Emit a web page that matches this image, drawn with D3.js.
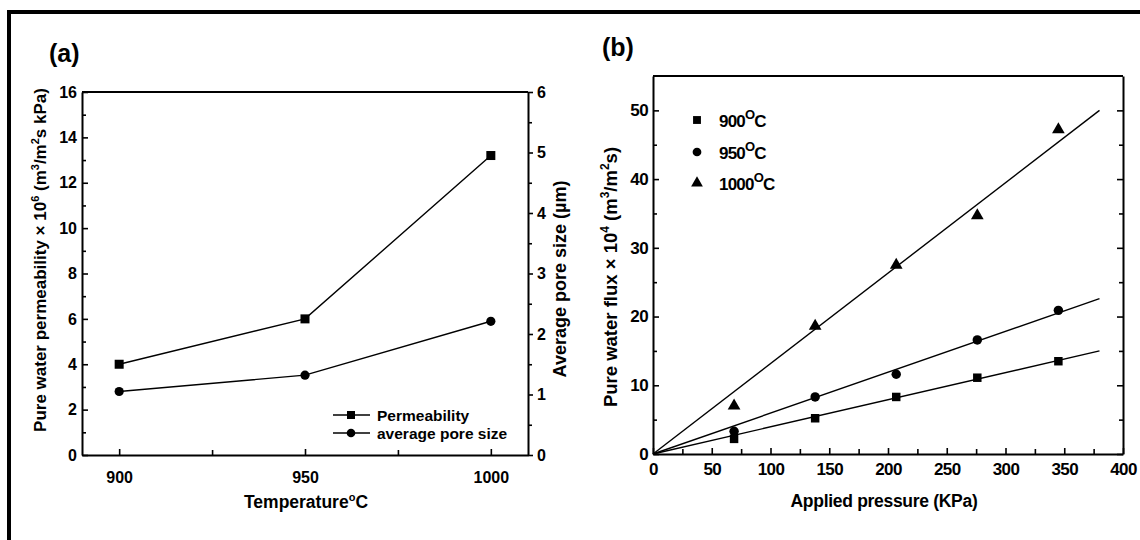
<!DOCTYPE html>
<meta charset="utf-8">
<script src="https://d3js.org/d3.v7.min.js"></script>
<style>
  body { margin: 0; background: #fff; }
  text { font-family: "Liberation Sans", Arial, sans-serif; font-weight: bold; fill: #000; }
  .axis path, .axis line { stroke: #000; }
  .axis path { stroke-width: 2; }
  .axis line { stroke-width: 1.6; }
</style>
<div class="canvas"></div>
<script>
    // panel (a) data
    const temps = [900, 950, 1000]
    const permeability = [4.0, 6.0, 13.2]
    const poreSize = [1.05, 1.32, 2.21]

    // panel (b) data
    const pressure = [69, 138, 207, 276, 345]
    const flux900 = [2.2, 5.2, 8.3, 11.1, 13.5]
    const flux950 = [3.3, 8.3, 11.6, 16.6, 20.9]
    const flux1000 = [7.0, 18.6, 27.5, 34.7, 47.2]
    const fitX = [0, 380]
    const fit900 = [0, 15.0]
    const fit950 = [0, 22.6]
    const fit1000 = [0, 50.0]
    const seriesNames = ["900", "950", "1000"]

    const width = 1140
    const height = 540

    const svg = d3.select(".canvas")
                .append("svg")
                .attr("width", width)
                .attr("height", height)

    // outer frame (top + left only)
    svg.append("line").attr("x1", 9).attr("x2", width).attr("y1", 12).attr("y2", 12)
        .attr("stroke", "#000").attr("stroke-width", 4)
    svg.append("line").attr("x1", 9).attr("x2", 9).attr("y1", 10).attr("y2", height)
        .attr("stroke", "#000").attr("stroke-width", 4)

    // ---------- panel (a) ----------
    const a = {left: 82, right: 528, top: 92, bottom: 455}

    const xA = d3.scaleLinear().domain([890, 1010]).range([a.left, a.right])
    const yA = d3.scaleLinear().domain([0, 16]).range([a.bottom, a.top])
    const yA2 = d3.scaleLinear().domain([0, 6]).range([a.bottom, a.top])

    // frame top
    svg.append("line").attr("x1", a.left).attr("x2", a.right).attr("y1", a.top).attr("y2", a.top)
        .attr("stroke", "#000").attr("stroke-width", 2)

    const gxA = svg.append("g").attr("class", "axis").attr("transform", `translate(0,${a.bottom})`)
        .call(d3.axisBottom(xA).tickValues([900, 925, 950, 975, 1000]).tickSizeInner(-6).tickSizeOuter(0)
            .tickPadding(17).tickFormat(d => d % 50 === 0 ? d : ""))
    const gyA = svg.append("g").attr("class", "axis").attr("transform", `translate(${a.left},0)`)
        .call(d3.axisLeft(yA).tickValues(d3.range(0, 17, 1)).tickSizeInner(-6).tickSizeOuter(0)
            .tickPadding(5).tickFormat(d => d % 2 === 0 ? d : ""))
    const gyA2 = svg.append("g").attr("class", "axis").attr("transform", `translate(${a.right},0)`)
        .call(d3.axisRight(yA2).tickValues(d3.range(0, 6.1, 0.5)).tickSizeInner(5).tickSizeOuter(0)
            .tickPadding(4).tickFormat(d => Number.isInteger(d) ? d : ""))

    gyA.selectAll(".tick").filter(d => d % 2 !== 0).select("line").attr("x2", 4)
    gyA2.selectAll(".tick").filter(d => !Number.isInteger(d)).select("line").attr("x2", 4)
    gxA.selectAll(".tick").filter(d => d % 50 !== 0).select("line").attr("y2", -5)

    for (const g of [gxA, gyA, gyA2]) {
        g.selectAll("text").style("font-size", "16px").style("font-family", "Liberation Sans, Arial")
            .style("font-weight", "bold").attr("fill", "#000")
    }

    const lineA = d3.line()
    svg.append("path")
        .attr("d", lineA(temps.map((t, i) => [xA(t), yA(permeability[i])])))
        .attr("fill", "none").attr("stroke", "#000").attr("stroke-width", 1.4)
    svg.append("path")
        .attr("d", lineA(temps.map((t, i) => [xA(t), yA2(poreSize[i])])))
        .attr("fill", "none").attr("stroke", "#000").attr("stroke-width", 1.4)

    svg.selectAll(".sqA").data(temps).enter().append("rect")
        .attr("x", (d) => xA(d) - 4.5).attr("y", (d, i) => yA(permeability[i]) - 4.5)
        .attr("width", 9).attr("height", 9).attr("fill", "#000")
    svg.selectAll(".ciA").data(temps).enter().append("circle")
        .attr("cx", d => xA(d)).attr("cy", (d, i) => yA2(poreSize[i]))
        .attr("r", 4.6).attr("fill", "#000")

    // legend (a)
    const legA = [{y: 415, label: "Permeability", shape: "square"},
                  {y: 433, label: "average pore size", shape: "circle"}]
    legA.forEach(l => {
        svg.append("line").attr("x1", 333).attr("x2", 370).attr("y1", l.y).attr("y2", l.y)
            .attr("stroke", "#000").attr("stroke-width", 1.4)
        if (l.shape === "square") {
            svg.append("rect").attr("x", 347).attr("y", l.y - 4).attr("width", 8).attr("height", 8)
        } else {
            svg.append("circle").attr("cx", 351).attr("cy", l.y).attr("r", 4.3)
        }
        svg.append("text").attr("x", 377).attr("y", l.y + 5.5).style("font-size", "15.5px").text(l.label)
    })

    // titles (a)
    svg.append("text").attr("x", 49).attr("y", 62).style("font-size", "25px").text("(a)")
    svg.append("text").attr("x", 306).attr("y", 508).attr("text-anchor", "middle").style("font-size", "17.5px")
        .call(t => {
            t.append("tspan").text("Temperature")
            t.append("tspan").attr("dy", -7).style("font-size", "11px").text("o")
            t.append("tspan").attr("dy", 7).text("C")
        })
    svg.append("text").attr("transform", `translate(46,${260}) rotate(-90)`).attr("text-anchor", "middle")
        .style("font-size", "17px")
        .call(t => {
            t.append("tspan").text("Pure water permeability × 10")
            t.append("tspan").attr("dy", -7).style("font-size", "11px").text("6")
            t.append("tspan").attr("dy", 7).text(" (m")
            t.append("tspan").attr("dy", -7).style("font-size", "11px").text("3")
            t.append("tspan").attr("dy", 7).text("/m")
            t.append("tspan").attr("dy", -7).style("font-size", "11px").text("2")
            t.append("tspan").attr("dy", 7).text("s kPa)")
        })
    svg.append("text").attr("transform", `translate(566,${279}) rotate(-90)`).attr("text-anchor", "middle")
        .style("font-size", "18px").text("Average pore size (µm)")

    // ---------- panel (b) ----------
    const b = {left: 653, right: 1123, top: 76, bottom: 454}

    const xB = d3.scaleLinear().domain([0, 400]).range([b.left, b.right])
    const yB = d3.scaleLinear().domain([0, 55]).range([b.bottom, b.top])

    svg.append("line").attr("x1", b.left).attr("x2", b.right).attr("y1", b.top).attr("y2", b.top)
        .attr("stroke", "#000").attr("stroke-width", 2)

    const gxB = svg.append("g").attr("class", "axis").attr("transform", `translate(0,${b.bottom})`)
        .call(d3.axisBottom(xB).tickValues(d3.range(0, 401, 25)).tickSizeInner(-6).tickSizeOuter(0)
            .tickPadding(9).tickFormat(d => d % 50 === 0 ? d : ""))
    const gyB = svg.append("g").attr("class", "axis").attr("transform", `translate(${b.left},0)`)
        .call(d3.axisLeft(yB).tickValues(d3.range(0, 55, 5)).tickSizeInner(-6).tickSizeOuter(0)
            .tickPadding(5).tickFormat(d => d % 10 === 0 ? d : ""))
    const gyB2 = svg.append("g").attr("class", "axis").attr("transform", `translate(${b.right},0)`)
        .call(d3.axisRight(yB).tickValues(d3.range(0, 55, 5)).tickSizeInner(-6).tickSizeOuter(0)
            .tickFormat(""))

    gxB.selectAll(".tick").filter(d => d % 50 !== 0).select("line").attr("y2", -5)
    gyB.selectAll(".tick").filter(d => d % 10 !== 0).select("line").attr("x2", 4)
    gyB2.selectAll(".tick").filter(d => d % 10 !== 0).select("line").attr("x2", -4)

    for (const g of [gxB, gyB]) {
        g.selectAll("text").style("font-size", "17px").style("font-family", "Liberation Sans, Arial")
            .style("font-weight", "bold").attr("fill", "#000").style("letter-spacing", "-0.6px")
    }

    // fitted lines
    const fits = [fit900, fit950, fit1000]
    fits.forEach(f => {
        svg.append("line")
            .attr("x1", xB(fitX[0])).attr("y1", yB(f[0]))
            .attr("x2", xB(fitX[1])).attr("y2", yB(f[1]))
            .attr("stroke", "#000").attr("stroke-width", 1.4)
    })

    const sym = [d3.symbolSquare, d3.symbolCircle, d3.symbolTriangle]
    const symSize = [72, 70, 70]
    const allFlux = [flux900, flux950, flux1000]
    allFlux.forEach((vals, s) => {
        svg.selectAll(".pt" + s).data(pressure).enter().append("path")
            .attr("d", d3.symbol().type(sym[s]).size(symSize[s]))
            .attr("transform", (d, i) => `translate(${xB(d)},${yB(vals[i])})`)
            .attr("fill", "#000")
    })

    // legend (b)
    const legY = [120, 152, 183]
    seriesNames.forEach((n, i) => {
        svg.append("path").attr("d", d3.symbol().type(sym[i]).size(symSize[i] - 10))
            .attr("transform", `translate(697,${legY[i]})`).attr("fill", "#000")
        svg.append("text").attr("x", 719).attr("y", legY[i] + 7).style("font-size", "17px")
            .style("letter-spacing", "-0.8px")
            .call(t => {
                t.append("tspan").text(n)
                t.append("tspan").attr("dy", -8).style("font-size", "13px").text("O")
                t.append("tspan").attr("dy", 8).text("C")
            })
    })

    // titles (b)
    svg.append("text").attr("x", 602).attr("y", 56).style("font-size", "25px").text("(b)")
    svg.append("text").attr("x", 884).attr("y", 507).attr("text-anchor", "middle").style("font-size", "17.5px")
        .style("letter-spacing", "-0.3px")
        .text("Applied pressure (KPa)")
    svg.append("text").attr("transform", `translate(617,${277}) rotate(-90)`).attr("text-anchor", "middle")
        .style("font-size", "18.5px")
        .call(t => {
            t.append("tspan").text("Pure water flux × 10")
            t.append("tspan").attr("dy", -8).style("font-size", "12px").text("4")
            t.append("tspan").attr("dy", 8).text(" (m")
            t.append("tspan").attr("dy", -8).style("font-size", "12px").text("3")
            t.append("tspan").attr("dy", 8).text("/m")
            t.append("tspan").attr("dy", -8).style("font-size", "12px").text("2")
            t.append("tspan").attr("dy", 8).text("s)")
        })
</script>
